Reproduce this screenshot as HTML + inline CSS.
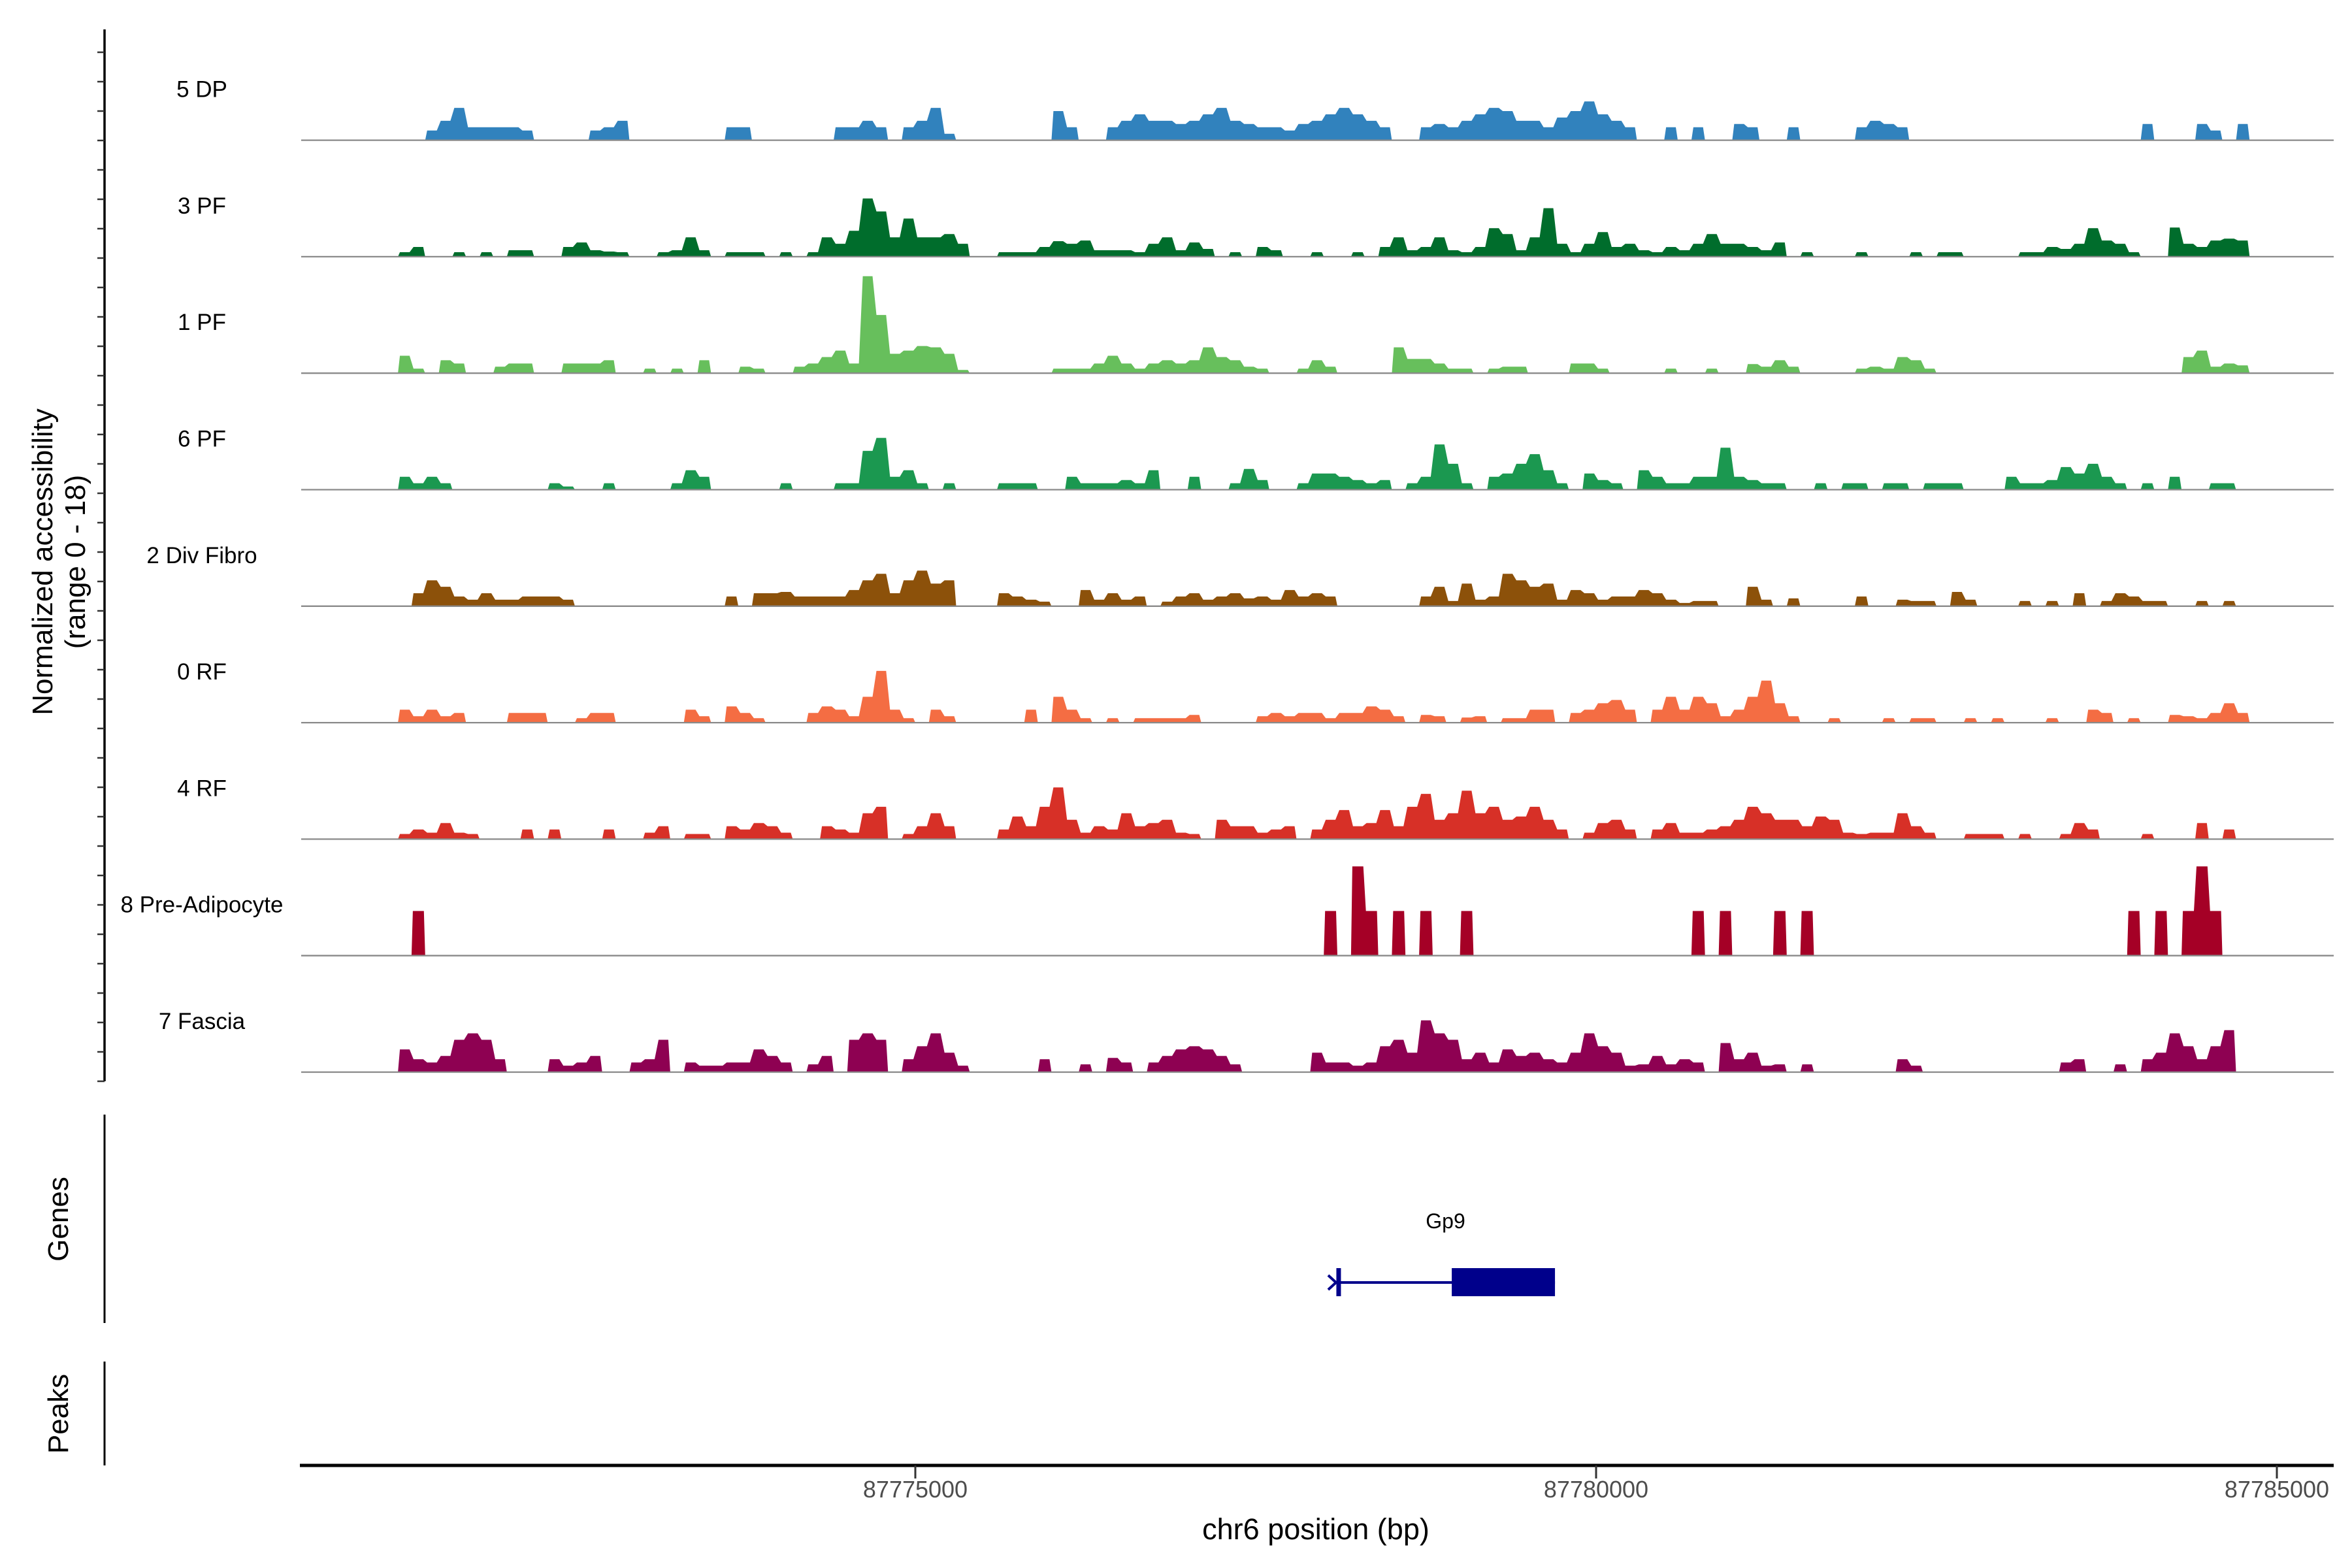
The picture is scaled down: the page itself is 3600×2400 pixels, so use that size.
<!DOCTYPE html>
<html><head><meta charset="utf-8"><style>
html,body{margin:0;padding:0;background:#fff;}
svg{display:block;font-family:"Liberation Sans",sans-serif;}
</style></head><body>
<svg id="chart" width="3600" height="2400" viewBox="0 0 3600 2400" xmlns="http://www.w3.org/2000/svg">
<rect x="0" y="0" width="3600" height="2400" fill="#fff"/>
<g id="tracks"></g>
<g id="yaxis"></g>
<text x="0" y="0" transform="translate(80,860) rotate(-90)" text-anchor="middle" font-size="44" fill="#000">Normalized accessibility</text>
<text x="0" y="0" transform="translate(130,860) rotate(-90)" text-anchor="middle" font-size="44" fill="#000">(range 0 - 18)</text>
<line x1="160" y1="1706" x2="160" y2="2025" stroke="#000" stroke-width="3"/>
<text x="0" y="0" transform="translate(104,1866) rotate(-90)" text-anchor="middle" font-size="44" fill="#000">Genes</text>
<line x1="160" y1="2084" x2="160" y2="2243" stroke="#000" stroke-width="3"/>
<text x="0" y="0" transform="translate(104,2164) rotate(-90)" text-anchor="middle" font-size="44" fill="#000">Peaks</text>
<g id="genes"></g>
<g id="xaxis"></g>
<text x="2014" y="2356" text-anchor="middle" font-size="45" fill="#000">chr6 position (bp)</text>
</svg>
<script>
const trackNames = ["5 DP","3 PF","1 PF","6 PF","2 Div Fibro","0 RF","4 RF","8 Pre-Adipocyte","7 Fascia"];
const trackColors = ["#3182BD","#006D2C","#67BF5C","#1B9850","#8C510A","#F46D43","#D73027","#A50026","#8E0152"];
const binStart = 87771200;
const binSize = 100;
const dp5 = [0,0,1.5,3,5,2,2,2,2,1.5,0,0,0,0,1.5,2,3,0,0,0,0,0,0,0,2,2,0,0,0,0,0,0,2,2,3,2,0,2,3,5,1,0,0,0,0,0,0,0,4.5,2,0,0,2,3,4,3,3,2.5,3,4,5,3,2.5,2,2,1.5,2.5,3,4,5,4,3,2,0,0,2,2.5,2,3,4,5,4.5,3,3,2,3.5,4.5,6,4,3,2,0,0,2,0,2,0,0,2.5,2,0,0,2,0,0,0,0,2,3,2.5,2,0,0,0,0,0,0,0,0,0,0,0,0,0,0,0,0,0,2.5,0,0,0,2.5,1.5,0,2.5];
const pf3 = [.7,1.5,0,0,.7,0,.7,0,1,1,0,0,1.5,2.2,1,.8,.7,0,0,.7,1,3,1,0,.7,.7,.7,0,.7,0,.7,3,2,4,9,7,3,5.9,3,3,3.5,2,0,0,.7,.7,.7,1.5,2.4,2,2.5,1,1,1,.7,2,3,1,2.2,1.2,0,.7,0,1.5,1,0,0,.7,0,0,.7,0,1.5,3,1,1.5,3,1,.7,1.5,4.4,3.5,1,3,7.5,2,.7,2,3.8,1.5,2,1,.7,1.5,1,2,3.5,2,2,1.5,1,2.2,0,.7,0,0,0,.7,0,0,0,.7,0,.7,.7,0,0,0,0,.7,.7,1.5,1.2,2,4.4,2.5,2,.7,0,0,4.5,2,1.5,2.5,2.8,2.5];
const pf1 = [2.7,.7,0,2,1.5,0,0,1,1.5,1.5,0,0,1.5,1.5,1.5,2,0,0,.7,0,.7,0,2,0,0,1,.7,0,0,1,1.5,2.5,3.5,1.5,15,9,3,3.5,4.2,4,3,.5,0,0,0,0,0,0,.7,.7,.7,1.5,2.7,1.5,.7,1.5,2,1.5,2,4,2.5,2,1,.7,0,0,.7,2,1,0,0,0,0,4,2.2,2.2,1.5,.7,.7,0,.7,1,1,0,0,0,1.5,1.5,.7,0,0,0,0,.7,0,0,.7,0,0,1.4,1,2,1,0,0,0,0,.7,1,.7,2.5,2,.7,0,0,0,0,0,0,0,0,0,0,0,0,0,0,0,0,0,0,2.5,3.5,1,1.5,1.2];
const pf6 = [2,1,2,1,0,0,0,0,0,0,0,1,.5,0,0,1,0,0,0,0,1,3,2,0,0,0,0,0,1,0,0,0,1,1,6,8,2,3,1,0,1,0,0,0,1,1,1,0,0,2,1,1,1,1.5,1,3,0,0,2,0,0,1,3.2,1.5,0,0,1,2.5,2.5,2,1.5,1,1.5,0,1,2,7,4,1,0,2,2.5,4,5.5,3,1,0,2.5,1.5,1,0,3,2,1,1,2,2,6.5,2,1.5,1,1,0,0,1,0,1,1,0,1,1,0,1,1,1,0,0,0,2,1,1,1.5,3.5,2.5,4,2,1,0,1,0,2,0,0,1,1,0];
const divFibro2 = [0,2,4,3,1.5,1,2,1,1,1.5,1.5,1.5,1,0,0,0,0,0,0,0,0,0,0,0,1.5,0,2,2,2.2,1.5,1.5,1.5,1.5,2.5,4,5,2,4,5.5,3.5,4,0,0,0,2,1.5,1,.7,0,0,2.5,1,2,1,1.5,0,.7,1.5,2,1,1.5,2,1.2,1.5,1,2.5,1.5,2,1.5,0,0,0,0,0,0,1.5,3,.8,3.5,1,1.5,5,4,3,3.5,1,2.5,2,1,1.5,1.5,2.5,2,1,.5,.8,.8,0,0,3,1,0,1.2,0,0,0,0,1.5,0,0,1,.8,.8,0,2.2,1,0,0,0,.8,0,.8,0,2,0,.8,2,1.5,.8,.8,0,0,.8,0,.8,0];
const rf0 = [2,1,2,1,1.5,0,0,0,1.5,1.5,1.5,0,0,.7,1.5,1.5,0,0,0,0,0,2,1,0,2.5,1.5,.7,0,0,0,1.5,2.5,2,1,4,8,2,.7,0,2,1,0,0,0,0,0,2,0,4,2,.7,0,.7,0,.7,.7,.7,.7,1.2,0,0,0,0,1,1.5,1,1.5,1.5,.7,1.5,1.5,2.5,2,1,0,1.2,1,0,.8,1,0,.7,.7,2,2,0,1.5,2,3,3.5,2,0,2,4,2,4,3,1,2,4,6.5,3,1,0,0,.7,0,0,0,.7,0,.7,.7,0,0,.7,0,.7,0,0,0,.7,0,0,2,1.5,0,.7,0,0,1.2,1,.7,1.5,3,1.5];
const rf4 = [.8,1.5,1,2.5,1,.8,0,0,0,1.5,0,1.5,0,0,0,1.5,0,0,1,2,0,.8,.8,0,2,1.5,2.5,2,1,0,0,2,1.5,1,4,5,0,.8,2,4,2,0,0,0,1.5,3.5,2,5,8,3,1,2,1.5,4,2,2.5,3,1,.8,0,3,2,2,1,1.5,2,0,1.5,3,4.5,2,2.5,4.5,2,5,7,3,4,7.5,4,5,3,3.5,5,3,1.5,0,1,2.5,3,1.5,0,1.5,2.5,1,1,1.5,2,3,5,4,3,3,2,3.5,3,1,.8,1,1,4,2,1,0,0,.8,.8,.8,0,.8,0,0,.8,2.5,1.5,0,0,0,.8,0,0,0,2.5,0,1.5,0];
const preAdipocyte8 = [0,6.9,0,0,0,0,0,0,0,0,0,0,0,0,0,0,0,0,0,0,0,0,0,0,0,0,0,0,0,0,0,0,0,0,0,0,0,0,0,0,0,0,0,0,0,0,0,0,0,0,0,0,0,0,0,0,0,0,0,0,0,0,0,0,0,0,0,0,6.9,0,13.8,6.9,0,6.9,0,6.9,0,0,6.9,0,0,0,0,0,0,0,0,0,0,0,0,0,0,0,0,6.9,0,6.9,0,0,0,6.9,0,6.9,0,0,0,0,0,0,0,0,0,0,0,0,0,0,0,0,0,0,0,0,0,0,0,6.9,0,6.9,0,6.9,13.8,6.9];
const fascia7 = [3.5,2,1.5,2.5,5,6,5,2,0,0,0,2,1,1.5,2.5,0,0,1.5,2,5,0,1.5,1,1,1.5,1.5,3.5,2.5,1.5,0,1.2,2.5,0,5,6,5,0,2,4,6,3,1,0,0,0,0,0,2,0,0,1.2,0,2.2,1.5,0,1.5,2.5,3.5,4,3.5,2.5,1.2,0,0,0,0,0,3,1.5,1.5,1,1.5,4,5,3,8,6,5,2,3,1.5,3.5,2.5,3,2,1.5,3,6,4,3,1,1.2,2.5,1.2,2,1.5,0,4.5,2,3,1,1.2,0,1.2,0,0,0,0,0,0,2,1,0,0,0,0,0,0,0,0,0,0,1.5,2,0,0,1.2,0,2,3,6,4,2,4,6.5,0];
const trackData = [dp5,pf3,pf1,pf6,divFibro2,rf0,rf4,preAdipocyte8,fascia7];
const xTickValues = [87775000,87780000,87785000];
const xTickLabels = ["87775000","87780000","87785000"];
const geneName = "Gp9";
const geneStart = 87778090;
const geneEnd = 87779698;
const exonStart = 87778940;
const exonEnd = 87779698;

const NS = "http://www.w3.org/2000/svg";
const X0 = 461, X1 = 3572;
function xScale(bp){ return 1401 + (bp - 87775000) * 0.2084; }
const baseY0 = 214.6, trackStep = 178.3, unitPx = 9.9;
function baseY(k){ return baseY0 + k * trackStep; }
function yScale(k, v){ return baseY(k) - v * unitPx; }
function mk(tag, attrs, parent){ const e = document.createElementNS(NS, tag); for (const a in attrs) e.setAttribute(a, attrs[a]); parent.appendChild(e); return e; }

const gT = document.getElementById('tracks');
trackData.forEach((vals, k) => {
  const g = mk('g', {}, gT);
  
  
  const b = baseY(k).toFixed(1);
  const blocky = (k === 7);
  let d = '';
  let i = 0;
  while (i < vals.length) {
    if (vals[i] > 0) {
      const xs = xScale(binStart + i * binSize);
      d += 'M' + xs.toFixed(1) + ',' + b;
      while (i < vals.length && vals[i] > 0) {
        const xa = xScale(binStart + i * binSize), xb = xScale(binStart + (i + 1) * binSize);
        const y = yScale(k, vals[i]).toFixed(1);
        const inset = blocky ? 2 : 3;
        d += 'L' + (xa + inset).toFixed(1) + ',' + y + 'L' + (xb - inset).toFixed(1) + ',' + y;
        i++;
      }
      d += 'L' + xScale(binStart + i * binSize).toFixed(1) + ',' + b + 'Z';
    } else i++;
  }
  const p = mk('path', {d: d, fill: trackColors[k]}, g);
  
  
  const ln = mk('line', {x1: X0, x2: X1, y1: baseY(k), y2: baseY(k), stroke: '#8a8a8a', 'stroke-width': 2.3}, g);
  
  
  const t = mk('text', {x: 309, y: baseY(k) - 66, 'text-anchor': 'middle', 'font-size': 35, fill: '#000'}, g);
  t.textContent = trackNames[k];
  
  
});

const gY = document.getElementById('yaxis');
const yl = mk('line', {x1: 160, x2: 160, y1: 45, y2: 1655, stroke: '#000', 'stroke-width': 3.5}, gY);


for (let j = 0; j < 36; j++) {
  const y = 80 + j * 45;
  const tk = mk('line', {x1: 149, x2: 160, y1: y, y2: y, stroke: '#333', 'stroke-width': 2.5}, gY);
  
  
}

const gG = document.getElementById('genes');
const gc = '#00008B';
const gl = mk('line', {x1: xScale(geneStart), x2: xScale(geneEnd), y1: 1963, y2: 1963, stroke: gc, 'stroke-width': 4}, gG);


const ex = mk('rect', {x: xScale(exonStart), y: 1941, width: xScale(exonEnd) - xScale(exonStart), height: 43, fill: gc}, gG);


const gs = xScale(geneStart);
const tss = mk('line', {x1: gs + 4, x2: gs + 4, y1: 1941, y2: 1984, stroke: gc, 'stroke-width': 7}, gG);


const arr = mk('polyline', {points: (gs - 12) + ',1952 ' + (gs) + ',1963 ' + (gs - 12) + ',1974', fill: 'none', stroke: gc, 'stroke-width': 4}, gG);


const gt = mk('text', {x: (xScale(geneStart) + xScale(geneEnd)) / 2, y: 1880, 'text-anchor': 'middle', 'font-size': 32, fill: '#000'}, gG);
gt.textContent = geneName;



const gX = document.getElementById('xaxis');
const xl = mk('line', {x1: 459, x2: X1, y1: 2243, y2: 2243, stroke: '#000', 'stroke-width': 5}, gX);


xTickValues.forEach((v, j) => {
  const x = xScale(v);
  const tk = mk('line', {x1: x, x2: x, y1: 2243, y2: 2263, stroke: '#333', 'stroke-width': 3}, gX);
  
  
  const lb = mk('text', {x: x, y: 2292, 'text-anchor': 'middle', 'font-size': 36, fill: '#4d4d4d'}, gX);
  lb.textContent = xTickLabels[j];
  
  
});
</script>
</body></html>
